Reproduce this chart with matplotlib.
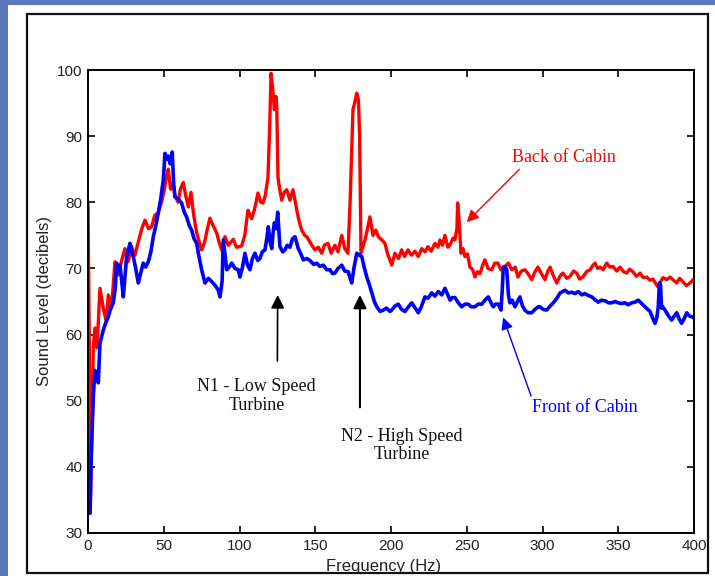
import matplotlib.pyplot as plt
from matplotlib.patches import Rectangle

# back of cabin (red) - frequency in Hz, level in dB
red_freq = [0, 0.8, 1.5, 2.5, 3.5, 4.6, 6, 7.9, 10.1, 12, 13.4, 15.5, 17.8, 20, 22, 24.4, 26.5, 28.8,
            31, 33.2, 35.5, 37.6, 40, 42, 44, 46.4, 48.5, 50.5, 51.9, 53, 54.5, 56, 57.4, 59.5, 61,
            62.9, 64.5, 66.2, 68, 69.8, 71.7, 73.5, 75, 77, 78.8, 80.5, 82.5, 84.9, 86.5, 88.2, 90.4,
            92.5, 95.9, 98, 101.4, 103.5, 105.6, 108, 110, 112.2, 114, 115.5, 117, 118.8, 120, 120.8,
            122, 123, 124, 124.6, 125.4, 126.5, 127.9, 129.5, 131.2, 133.3, 135.3, 136.5, 137.8,
            139.5, 141, 143, 144.4, 147, 149.8, 152, 154.3, 156, 158.4, 160.5, 163, 165, 167.5,
            169.5, 171.6, 173, 174.9, 176, 177.4, 178.5, 179.3, 180.2, 182.8, 184.5, 186.1, 188.1,
            190, 191.6, 194, 196, 198, 199.3, 200.5, 202.6, 205, 207, 209, 211.2, 213.5, 215.8, 218,
            220.3, 222.5, 224.4, 226.5, 229, 231, 232.3, 234, 235.6, 237.5, 239, 241, 242.2, 243.5,
            244, 245, 246.2, 247.5, 248.8, 250.5, 252.1, 254, 255.4, 257, 258.7, 260.5, 262, 264,
            266.5, 268.5, 270.6, 272.5, 275.2, 277.5, 279.7, 282, 283.8, 286, 288.4, 290.5, 292.9,
            295, 297, 299, 301.7, 303.5, 305, 307, 309.4, 311.5, 313.5, 316, 318.2, 320.5, 322.6,
            324.5, 326.7, 329, 331.4, 333, 334.7, 336.5, 338, 340, 342.4, 344.5, 346.5, 349, 351.2,
            353.5, 355.6, 357.5, 359.7, 362, 364.4, 366.5, 368.8, 371, 372.9, 374.5, 376.2, 378,
            379.5, 382, 384.2, 386.5, 388.6, 390.5, 392.7, 395, 397.4, 399.5]
red_level = [80, 60, 33, 45, 58, 61, 58, 67, 64, 62, 66, 64, 71, 69, 71, 73, 71, 73.3,
             72, 74, 76, 77.3, 76, 76.3, 78, 78.5, 80, 82, 84, 85, 82, 83, 81, 80, 82,
             83, 81, 79.3, 81.5, 78, 75.4, 74, 72.8, 74, 76, 77.6, 76.5, 75.4, 74, 72.8, 74.8,
             73.5, 74.4, 73.2, 73.4, 75, 78.8, 77.5, 79, 81.4, 80, 79.9, 81, 83.8, 92, 99.5,
             97, 94, 96, 94.4, 83.8, 82, 80.3, 81.5, 81.9, 80.3, 81.9, 80.5, 78.8,
             77, 75.8, 75, 74.8, 73.8, 72.8, 73.2, 72.3, 73.5, 73.8, 72.3, 73.5, 72.5, 75,
             73, 72.3, 80, 94, 95, 96.5, 95.5, 90, 72.3, 74.3, 76, 77.8, 75,
             75.8, 74.8, 74.3, 73.8, 72, 71.3, 70.5, 72.3, 71.5, 72.8, 71.8, 72.8, 72, 72.6, 71.8,
             73, 72.5, 73.3, 72.6, 73.8, 73.2, 74.3, 73.5, 75, 73.2, 73.6, 74.6, 74.3, 76,
             79.9, 77, 72.3, 73, 71.8, 72.2, 70.2, 69.8, 68.7, 69.5, 69.2, 70.5, 71.3, 70,
             69.8, 70.8, 70.8, 69.8, 70.3, 70.8, 69.8, 70.2, 68.7, 69.6, 69.8, 69.2, 68.3,
             69.5, 70.2, 69.3, 68.3, 69.6, 70.2, 69, 67.8, 68.8, 69.3, 68.5, 68.8, 69.6, 69.3,
             68.4, 68.7, 69.5, 69.8, 70.4, 70.8, 70, 70.2, 69.8, 70.8, 70.2, 70.3, 69.6, 70.2,
             69.5, 69.3, 69.9, 69.5, 68.8, 69.3, 68.6, 68.7, 68.2, 68.4, 67.8, 67.2, 68,
             68.6, 68.3, 68.7, 68.2, 67.8, 68.5, 68, 67.4, 67.8, 68.3]

# front of cabin (blue)
blue_freq = [0.3, 1.3, 2.2, 3.5, 4.6, 5.8, 6.8, 7.9, 10.1, 11.8, 13.4, 15, 16.7, 18, 18.9, 20, 21.1,
             22.3, 23.3, 24.5, 25.5, 27.7, 29, 29.9, 31.5, 33.2, 35, 36.5, 38, 39.8, 41.5, 43.1,
             44.8, 46.4, 48, 49.7, 50.8, 52, 53, 54.3, 55.6, 56.5, 57.4, 59.5, 61.8, 63.5, 65.1,
             66.8, 68.4, 70, 71.7, 73.5, 75, 77.2, 79.5, 81.7, 84, 86, 87.1, 88.5, 89.3, 90.5,
             91.6, 93.5, 94.9, 97, 99.2, 100.3, 102, 103.6, 105.3, 106.9, 108.5, 110.2, 112,
             113.5, 115, 116.8, 118, 119, 120.2, 121.3, 122.2, 123, 124.2, 125.2, 126.7, 128.5,
             130, 131.5, 133.3, 135, 136.6, 138.8, 140.5, 142.1, 144.5, 146.5, 149, 151, 153,
             155.3, 157.5, 159.7, 161.5, 163, 165, 167.5, 169.5, 171.8, 173, 174.1, 175.5, 177.4,
             179, 180.7, 182.5, 184, 185.8, 187.3, 189, 190.6, 192.8, 194.9, 197, 199.3, 200.5,
             202.5, 204.8, 207, 209.2, 211.5, 213.7, 216, 218, 220, 222.4, 224.5, 226.9, 229,
             231.2, 233.5, 235.6, 237.5, 239, 240.5, 242.2, 244.5, 246.7, 248.8, 251, 253, 255.4,
             257.5, 259.9, 262, 264.2, 266, 267.5, 269, 270.8, 272.6, 273.5, 274.1, 275.5, 276.4,
             277.5, 278.5, 280, 281.8, 283.5, 285.1, 286.8, 288.4, 290.5, 292.9, 295, 297.2,
             298.3, 300.5, 302.8, 305, 307.1, 309.5, 311.6, 313.3, 314.9, 317, 319.3, 321.5,
             323.6, 326, 328, 330.3, 332.5, 334.5, 336.8, 339, 341.3, 343.5, 345.7, 348, 350,
             352, 354.5, 356.5, 358.9, 361, 363.2, 365.5, 367.7, 369.5, 371, 372.5, 374.3, 375.5,
             376.4, 377.2, 377.9, 378.6, 379.3, 380.6, 381.9, 383.5, 385.2, 387, 388.6, 390.2,
             391.8, 393.5, 395.2, 397, 398.5, 400]
blue_level = [33, 33, 42, 50.6, 54.6, 53.5, 52.7, 58.7, 60.7, 61.8, 62.7, 64, 64.8, 67, 70.8, 69.5, 70.5,
              68, 65.7, 69, 71.8, 73.8, 72.5, 71.8, 70, 67.8, 69.5, 70.8, 70.2, 71, 72.5, 74.8,
              76.5, 78.4, 80.5, 83.4, 87.4, 86.5, 87, 85.8, 87.6, 83, 80.8, 80.5, 79.9, 78.5, 77.8,
              76.5, 75.8, 74.5, 73.8, 71.5, 69.8, 67.8, 68.5, 68, 67.4, 66.7, 65.7, 68, 74.3, 72,
              69.8, 70.3, 70.8, 70, 69.8, 68.7, 70.2, 72.3, 70.5, 69.8, 71.5, 72.3, 71.2,
              71.5, 72.5, 72.8, 74.5, 76.3, 74, 73, 75.5, 76.9, 76, 78.5, 73.3, 72.5,
              72.8, 73.5, 73.2, 74.5, 74.8, 73, 72.2, 71.3, 71.5, 71.2, 70.6, 70.8, 70.3,
              70.5, 69.8, 69.8, 69.2, 69.3, 70, 70.5, 69.6, 69.5, 68.5, 67.8, 70, 72.3,
              72, 71.8, 70, 68.7, 67.5, 66.3, 65, 64.2, 63.5, 63.7, 64, 63.5, 63.7,
              64.3, 64.6, 63.8, 63.5, 64.2, 64.8, 64, 63.3, 64.2, 65.7, 65.5, 66.3, 65.8,
              66.5, 66, 67, 66, 65.2, 65.6, 65.6, 64.8, 64.2, 64.6, 64.6, 64.2, 64.2,
              64.6, 64.6, 65.2, 65.7, 64.8, 64.2, 64.6, 64.6, 63.7, 67, 70.2, 70.2, 69.8,
              66, 64.8, 65.2, 64.2, 65, 65.7, 64.3, 63.7, 63.3, 63.3, 63.8, 64.2,
              64.2, 63.8, 63.7, 64.3, 64.8, 65.5, 66.3, 66.5, 66.7, 66.3, 66.4, 66.2,
              66.5, 66, 66.2, 65.9, 65.7, 65.3, 64.9, 65.2, 65.1, 64.8, 64.8, 65, 64.8,
              64.7, 64.8, 64.5, 64.8, 64.9, 65.2, 64.7, 64.2, 63.8, 63.5, 62.6, 61.7, 62.6,
              64.2, 67.8, 67.5, 64, 64.2, 63.8, 63.3, 62.7, 62.2, 62.8, 63.3, 62.4,
              61.7, 62.4, 63.3, 62.8, 62.7, 62.5]

x_ticks = [0, 50, 100, 150, 200, 250, 300, 350, 400]
y_ticks = [30, 40, 50, 60, 70, 80, 90, 100]

serif = ['Liberation Serif', 'DejaVu Serif']
sans = ['Liberation Sans', 'DejaVu Sans']

fig = plt.figure(figsize=(7.15, 5.76), dpi=100, facecolor='#5b78be')
# white slide panel and its black frame
fig.patches.append(Rectangle((8 / 715, 0), 707 / 715, 571 / 576, transform=fig.transFigure,
                             facecolor='white', edgecolor='none', zorder=-10))
fig.patches.append(Rectangle((27 / 715, 3 / 576), 681 / 715, 559 / 576, transform=fig.transFigure,
                             facecolor='none', edgecolor='#111111', lw=1.6, zorder=10))

ax = fig.add_axes([88 / 715, 43 / 576, 606 / 715, 463 / 576])
ax.plot(red_freq, red_level, color='#ff0000', lw=2.4)
ax.plot(blue_freq, blue_level, color='#0000ff', lw=2.6)

ax.set_xlim(0, 400)
ax.set_ylim(30, 100)
ax.set_xticks(x_ticks)
ax.set_yticks(y_ticks)
ax.tick_params(direction='in', length=5, width=1.2, top=True, right=True,
               labelsize=11, labelcolor='#222222', pad=4)
for lab in ax.get_xticklabels() + ax.get_yticklabels():
    lab.set_family(sans)
for s in ax.spines.values():
    s.set_linewidth(1.4)

ax.set_xlabel('Frequency (Hz)', fontsize=12, family=sans, color='#222222')
ax.set_ylabel('Sound Level (decibels)', fontsize=12, family=sans, color='#222222')
ax.xaxis.set_label_coords(0.487, -0.057)
ax.yaxis.set_label_coords(-0.06, 0.5)

# annotations
ax.annotate('Back of Cabin', xy=(250, 77), xytext=(314, 86.7), color='#ff0000',
            fontsize=13, family=serif, ha='center', va='center',
            arrowprops=dict(arrowstyle='-|>', color='#ff0000', lw=1.0, mutation_scale=18,
                            shrinkA=0, shrinkB=0, relpos=(0.1, 0.0)))
ax.annotate('Front of Cabin', xy=(274, 62.6), xytext=(328, 49), color='#0000ff',
            fontsize=13, family=serif, ha='center', va='center',
            arrowprops=dict(arrowstyle='-|>', color='#0000ff', lw=1.0, mutation_scale=18,
                            shrinkA=0, shrinkB=0, relpos=(0.0, 1.0)))
ax.annotate('', xy=(125.2, 66), xytext=(125, 56),
            arrowprops=dict(arrowstyle='-|>', color='black', lw=1.2, mutation_scale=20,
                            shrinkA=0, shrinkB=0))
ax.annotate('', xy=(179.5, 66), xytext=(179.5, 49),
            arrowprops=dict(arrowstyle='-|>', color='black', lw=1.5, mutation_scale=20,
                            shrinkA=0, shrinkB=0))
ax.text(111.4, 50.7, 'N1 - Low Speed\nTurbine', fontsize=13, family=serif,
        ha='center', va='center', linespacing=1.1, color='#111111')
ax.text(207, 43.2, 'N2 - High Speed\nTurbine', fontsize=13, family=serif,
        ha='center', va='center', linespacing=1.1, color='#111111')

plt.savefig('out.png', dpi=100, facecolor=fig.get_facecolor())
